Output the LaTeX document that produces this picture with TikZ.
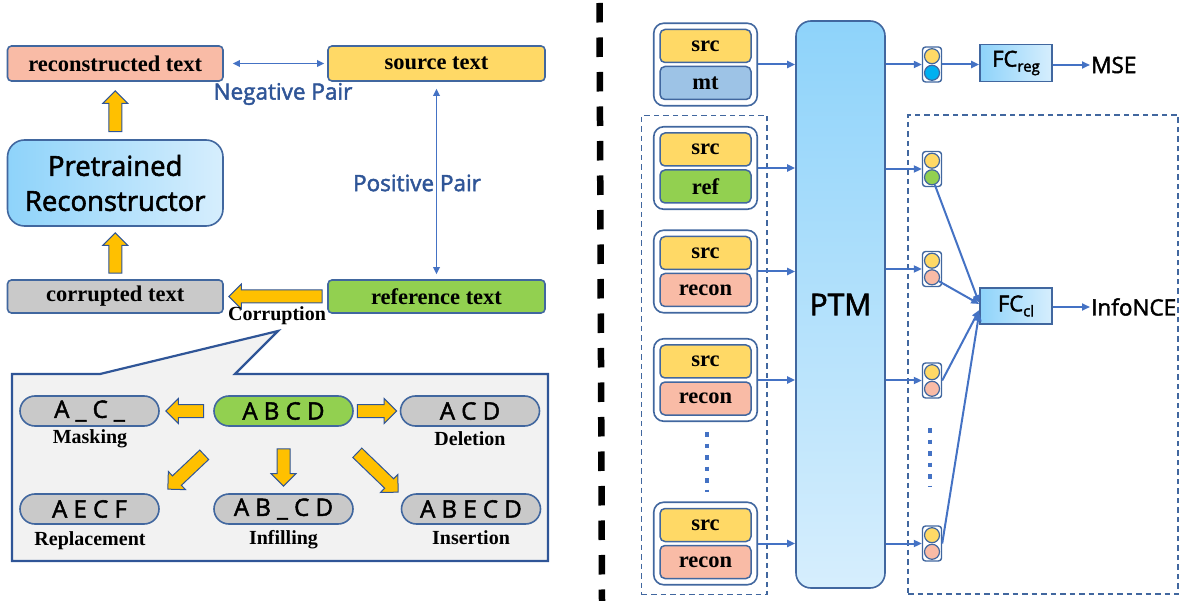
\documentclass[tikz,border=0pt]{standalone}
\usepackage{fontspec}
\setmainfont{Liberation Serif}
\newfontfamily\sansf[FakeBold=2]{Open Sans}
\usetikzlibrary{shapes.arrows,arrows.meta,calc,fit}

\definecolor{edge}{HTML}{41679F}
\definecolor{link}{HTML}{4472C4}
\definecolor{pairtxt}{HTML}{2F5597}
\definecolor{salmon}{HTML}{F9BBA6}
\definecolor{srcyellow}{HTML}{FFD966}
\definecolor{refgreen}{HTML}{92D050}
\definecolor{corrgrey}{HTML}{C9C9C9}
\definecolor{mtblue}{HTML}{9DC3E6}
\definecolor{featcyan}{HTML}{00B0F0}
\definecolor{arrowfill}{HTML}{FFC000}
\definecolor{panel}{HTML}{F2F2F2}
\definecolor{skyA}{HTML}{8ED3FA}
\definecolor{skyB}{HTML}{D6EEFD}

% wide yellow arrow from one named point to another
\newcommand\blockarrow[3]{%
  \path let \p1=(#2), \p2=(#3),
    \n1={atan2(\y2-\y1,\x2-\x1)}, \n2={veclen(\x2-\x1,\y2-\y1)} in
    node[barrow, minimum height=\n2, rotate=\n1, anchor=tail] (#1) at (\p1) {};}

% input pair: src on top, second segment below, framed together
\newcommand\inputgroup[4]{%
  \node[slot, fill=srcyellow] (#1s) at (705.5,#2-18.5) {src};
  \node[slot, fill=#3] (#1b) at (705.5,#2+18.5) {#4};
  \node[grp, fit=(#1s)(#1b)] (#1) {};}

% pooled feature pair: two stacked dots in a small frame
\newcommand\featpair[3]{%
  \node[pairbox] (#1) at (932,#2) {};
  \node[featdot, fill=srcyellow] (#1u) at ($(#1.center)+(0,-8.3)$) {};
  \node[featdot, fill=#3] (#1d) at ($(#1.center)+(0,8.3)$) {};}

\begin{document}
\begin{tikzpicture}[x=1pt,y=-1pt,
  box/.style={draw=edge, line width=1.6pt, rounded corners=4pt, inner sep=0pt,
    font=\fontsize{22.5}{24}\selectfont\bfseries},
  lbl/.style={inner sep=0pt, font=\fontsize{20}{22}\selectfont\bfseries},
  pairlbl/.style={inner sep=0pt, text=pairtxt, font=\sansf\fontsize{22.5}{26}\selectfont},
  pill/.style={draw=edge, line width=1.6pt, rounded corners=15pt, fill=corrgrey,
    minimum width=139pt, minimum height=30pt, inner sep=0pt,
    font=\sansf\fontsize{24}{26}\selectfont},
  barrow/.style={single arrow, draw=pairtxt, fill=arrowfill, line width=1pt,
    inner xsep=0pt, inner ysep=6pt, minimum width=0pt, single arrow head extend=6pt,
    outer sep=0pt},
  conn/.style={draw=link, line width=2pt, -{Triangle[length=8pt,width=7pt]}},
  biconn/.style={draw=link, line width=1.7pt,
    {Triangle[length=7pt,width=6.5pt]}-{Triangle[length=7pt,width=6.5pt]}},
  slot/.style={draw=edge, line width=1.5pt, rounded corners=5pt, minimum width=91pt,
    minimum height=33pt, inner sep=0pt, font=\fontsize{22.5}{24}\selectfont\bfseries},
  grp/.style={draw=edge, line width=1.6pt, rounded corners=10pt, inner sep=5.5pt},
  pairbox/.style={draw=edge, line width=1.4pt, rounded corners=3pt, minimum width=19pt,
    minimum height=35pt, inner sep=0pt},
  featdot/.style={circle, draw=edge, line width=1.2pt, minimum size=15pt, inner sep=0pt},
  fcbox/.style={draw=edge, line width=1.6pt, left color=skyA, right color=skyB,
    minimum width=72pt, minimum height=36pt, inner sep=0pt,
    font=\sansf\fontsize{22}{24}\selectfont},
  dashframe/.style={draw=edge, line width=1.6pt, dash pattern=on 5.5pt off 4pt, inner sep=0pt},
  dotline/.style={draw=link, line width=4.5pt, dash pattern=on 4.5pt off 7pt},
  outtxt/.style={anchor=west, inner sep=1pt, font=\sansf\fontsize{22.5}{26}\selectfont}
]
\useasboundingbox (0,0) rectangle (1183,601);

% ---------------- left: building negative pairs by corruption ----------------
\node[box, fill=salmon, minimum width=215.5pt, minimum height=35pt] (recon) at (115.25,63.5) {reconstructed text};
\node[box, fill=srcyellow, minimum width=217pt, minimum height=35pt] (src) at (436.5,63.5) {source text};
\node[draw=edge, line width=1.6pt, rounded corners=17pt, left color=skyA, right color=skyB,
  minimum width=215.5pt, minimum height=86pt, align=center, inner sep=0pt,
  font=\sansf\fontsize{27.5}{35}\selectfont] (pre) at (115.25,183) {Pretrained\\Reconstructor};
\node[box, fill=corrgrey, minimum width=215.5pt, minimum height=33pt] (corr) at (115.25,296.5) {corrupted text};
\node[box, fill=refgreen, minimum width=217pt, minimum height=33pt] (ref) at (436.5,296.5) {reference text};

\draw[biconn, shorten <=9pt, shorten >=3pt] (recon.east) -- (src.west);
\node[pairlbl] (neglbl) at (283,94) {Negative Pair};
\draw[biconn, shorten <=7pt, shorten >=5pt] (src.south) -- (ref.north);
\node[pairlbl] (poslbl) at (417,183) {Positive Pair};

\coordinate (u1t) at ($(pre.north)+(0,-7.5)$);
\coordinate (u1h) at ($(recon.south)+(0,9)$);
\coordinate (u2t) at ($(corr.north)+(0,-6)$);
\coordinate (u2h) at ($(pre.south)+(0,6)$);
\coordinate (ct) at ($(ref.west)+(-5,0)$);
\coordinate (ch) at ($(corr.east)+(5,0)$);
\blockarrow{upA}{u1t}{u1h}
\blockarrow{upB}{u2t}{u2h}
\blockarrow{corrarrow}{ct}{ch}
\node[lbl] (corrlbl) at (277,316) {Corruption};

% callout listing the corruption operations
\draw[draw=pairtxt, fill=panel, line width=2.2pt, line join=miter]
  (12,374) -- (100,374) -- (278,331) -- (235,374) -- (548,374) -- (548,561) -- (12,561) -- cycle;

\node[pill] (mask) at (89.5,411) {A \_ C \_};
\node[pill, fill=refgreen] (abcd) at (283.5,411) {A B C D};
\node[pill] (del) at (470,411) {A C D};
\node[pill] (rep) at (89.5,509) {A E C F};
\node[pill] (inf) at (283.5,509) {A B \_ C D};
\node[pill] (ins) at (471,509) {A B E C D};

\node[lbl] (masklbl) at (90,439) {Masking};
\node[lbl] (dellbl) at (470,439) {Deletion};
\node[lbl] (replbl) at (90,541) {Replacement};
\node[lbl] (inflbl) at (283.5,540) {Infilling};
\node[lbl] (inslbl) at (471,537.5) {Insertion};

\coordinate (lt) at ($(abcd.west)+(-9.5,0)$);
\coordinate (lh) at ($(mask.east)+(6,0)$);
\coordinate (rt) at ($(abcd.east)+(3.5,0)$);
\coordinate (rh) at ($(del.west)+(-3,0)$);
\coordinate (dt) at ($(abcd.south)+(0,22)$);
\coordinate (dh) at ($(inf.north)+(0,-7)$);
\coordinate (swt) at ($(abcd.south west)+(-9,28)$);
\coordinate (swh) at ($(rep.north east)+(8,-4)$);
\coordinate (set) at ($(abcd.south east)+(3.5,26)$);
\coordinate (seh) at ($(ins.north west)+(-2.5,-1)$);
\blockarrow{opmask}{lt}{lh}
\blockarrow{opdel}{rt}{rh}
\blockarrow{opinf}{dt}{dh}
\blockarrow{oprep}{swt}{swh}
\blockarrow{opins}{set}{seh}

% ---------------- divider ----------------
\draw[line width=6.5pt, dash pattern=on 19.5pt off 15pt] (599.5,3) -- (602,601);

% ---------------- right: scoring with the pretrained model ----------------
\node[dashframe, minimum width=125.5pt, minimum height=479pt] (negframe) at (704.25,355) {};
\node[dashframe, minimum width=270pt, minimum height=479pt] (featframe) at (1043,354.5) {};

\node[draw=edge, line width=1.6pt, rounded corners=15pt, top color=skyA, bottom color=skyB,
  minimum width=89pt, minimum height=567pt, inner sep=0pt,
  font=\sansf\fontsize{30}{34}\selectfont] (ptm) at (840.5,304.5) {PTM};

\inputgroup{g1}{64.5}{mtblue}{mt}
\inputgroup{g2}{168}{refgreen}{ref}
\inputgroup{g3}{271.5}{salmon}{recon}
\inputgroup{g4}{380}{salmon}{recon}
\inputgroup{g5}{543.5}{salmon}{recon}
\draw[dotline] (707,432) -- (707,492);

\featpair{p1}{64.5}{featcyan}
\featpair{p2}{169}{refgreen}
\featpair{p3}{269}{salmon}
\featpair{p4}{380.5}{salmon}
\featpair{p5}{543.5}{salmon}
\draw[dotline] (930,428) -- (930,487);

\foreach \g in {g1,g2,g3,g4,g5}
  \draw[conn] (\g.east) -- (\g.east -| ptm.west);
\foreach \p in {p1,p2,p3,p4,p5}
  \draw[conn] (ptm.east |- \p.west) -- (\p.west);

\node[fcbox, minimum height=37pt] (fcreg) at (1016,63) {FC\raisebox{-5pt}{\fontsize{15}{15}\selectfont reg}};
\node[fcbox] (fccl) at (1016,306) {FC\raisebox{-5pt}{\fontsize{15}{15}\selectfont cl}};
\node[outtxt] (mse) at (1090,65) {MSE};
\node[outtxt] (nce) at (1090,307) {InfoNCE};

\draw[conn] (p1.east) -- (fcreg.west |- p1.east);
\draw[conn] (fcreg.east |- mse.west) -- (mse.west);
\draw[conn] (fccl.east |- nce.west) -- (nce.west);

\coordinate (c2) at ($(fccl.west)+(0,-3)$);
\coordinate (c3) at ($(fccl.west)+(0,-2)$);
\coordinate (c4) at ($(fccl.west)+(0,4)$);
\coordinate (c5) at ($(fccl.west)+(0,7)$);
\draw[conn] (p2d) -- (c2);
\draw[conn] (p3d) -- (c3);
\draw[conn] (p4.east) -- (c4);
\draw[conn] (p5.east) -- (c5);
\end{tikzpicture}
\end{document}
